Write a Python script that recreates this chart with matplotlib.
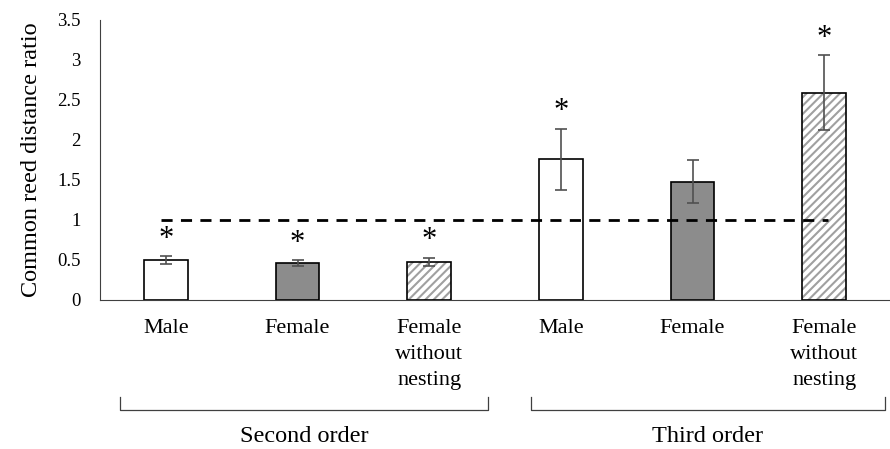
import matplotlib.pyplot as plt
import matplotlib.transforms as mtransforms
import numpy as np

plt.rcParams['font.family'] = ['Liberation Serif', 'DejaVu Serif']
plt.rcParams['hatch.linewidth'] = 1.5

# data
labels = ["Male", "Female", "Female\nwithout\nnesting",
          "Male", "Female", "Female\nwithout\nnesting"]
means = [0.50, 0.46, 0.48, 1.76, 1.48, 2.59]
errors = [0.05, 0.04, 0.05, 0.38, 0.27, 0.47]
significant = [True, True, True, True, False, True]
styles = ["white", "grey", "hatch", "white", "grey", "hatch"]
groups = ["Second order", "Third order"]
reference = 1.0

fig = plt.figure(figsize=(8.9, 4.49), dpi=100)
ax = fig.add_axes([100 / 890, 149 / 449, 790 / 890, 280 / 449])

x = np.arange(len(means))
w = 0.33
for xi, m, s in zip(x, means, styles):
    if s == "white":
        ax.bar(xi, m, w, color="white", edgecolor="black", linewidth=1.2, zorder=2)
    elif s == "grey":
        ax.bar(xi, m, w, color="#8c8c8c", edgecolor="black", linewidth=1.2, zorder=2)
    else:
        ax.bar(xi, m, w, color="white", edgecolor="#a0a0a0", hatch="////",
               linewidth=0, zorder=2)
        ax.bar(xi, m, w, color="none", edgecolor="black", linewidth=1.2, zorder=3)

ax.errorbar(x, means, yerr=errors, fmt="none", ecolor="#505050",
            elinewidth=1.2, capsize=4, capthick=1.2, zorder=4)

for xi, m, e, sig in zip(x, means, errors, significant):
    if sig:
        ax.text(xi, m + e + 0.21, "*", ha="center", va="center", fontsize=22)

ax.hlines(reference, x[0] - 0.04, x[-1] + 0.03, colors="black",
          linestyles=(0, (4, 3)), linewidth=2, zorder=5)

ax.set_xlim(-0.5, 5.5)
ax.set_ylim(0, 3.5)
ax.set_yticks(np.arange(0, 3.51, 0.5))
ax.set_yticklabels(["0", "0.5", "1", "1.5", "2", "2.5", "3", "3.5"], fontsize=13.5)
ax.set_xticks(x)
ax.set_xticklabels(labels, fontsize=16, linespacing=1.5, va="top")
ax.tick_params(axis="both", length=0)
ax.tick_params(axis="y", pad=14)
ax.tick_params(axis="x", pad=14)
for sp in ["top", "right"]:
    ax.spines[sp].set_visible(False)
ax.spines["left"].set_color("#404040")
ax.spines["bottom"].set_color("#404040")
ax.set_ylabel("Common reed distance ratio", fontsize=17.5, labelpad=11)

# group brackets under the category labels
trans = mtransforms.blended_transform_factory(ax.transData, ax.transAxes)
spans = [(-0.35, 2.45), (2.77, 5.46)]
for (a, b), g in zip(spans, groups):
    ax.plot([a, a, b, b], [-0.345, -0.393, -0.393, -0.345], color="#404040",
            linewidth=0.9, transform=trans, clip_on=False)
    ax.text((a + b) / 2, -0.487, g, ha="center", va="center", fontsize=17.5,
            transform=trans)

fig.savefig("out.png", dpi=100)
